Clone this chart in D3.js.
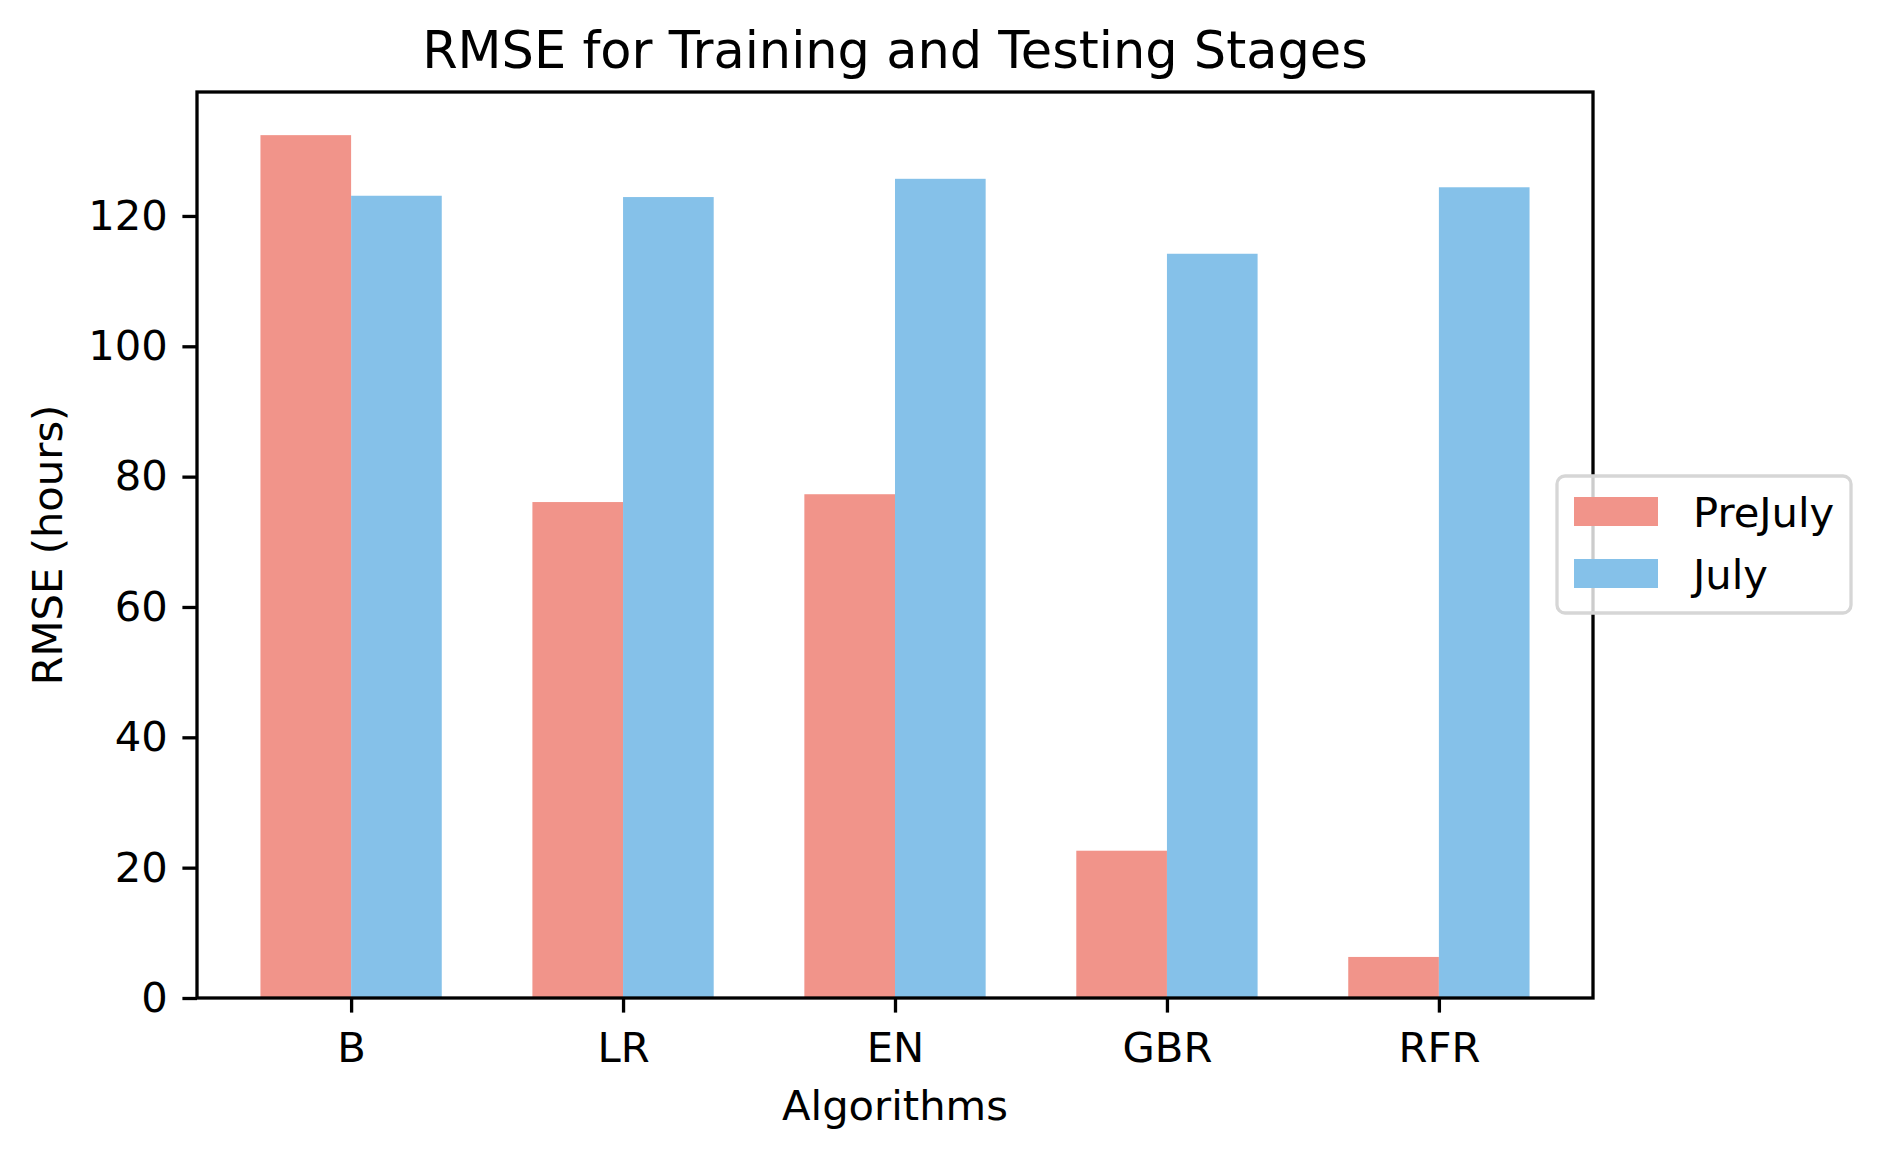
<!DOCTYPE html>
<html>
<head>
<meta charset="utf-8">
<script src="https://cdn.jsdelivr.net/npm/d3@7"></script>
<style>
  body { margin: 0; background: #fff; }
  svg { display: block; font-family: "DejaVu Sans", sans-serif; }
</style>
</head>
<body>
<svg id="chart" width="1880" height="1158"></svg>
<script>
// data
const algorithms = ["B", "LR", "EN", "GBR", "RFR"];
const preJuly = [132.4, 76.1, 77.3, 22.6, 6.3];
const july = [123.1, 122.9, 125.7, 114.2, 124.4];
const seriesNames = ["PreJuly", "July"];
const seriesColors = ["#f1948a", "#85c1e9"];
const yTicks = [0, 20, 40, 60, 80, 100, 120];

const W = 1880, H = 1158;
const margin = { top: 92, right: 287, bottom: 160, left: 197 };
const plotW = W - margin.left - margin.right;
const plotH = H - margin.top - margin.bottom;
const barW = 1 / 3;
const fs = 41.7;

const svg = d3.select("#chart");

// matplotlib style 5% margins on x
const lo = -barW, hi = algorithms.length - 1 + barW;
const pad = (hi - lo) * 0.05;
const x = d3.scaleLinear()
    .domain([lo - pad, hi + pad])
    .range([margin.left, margin.left + plotW]);

const yMax = d3.max(preJuly.concat(july)) * 1.05;
const y = d3.scaleLinear()
    .domain([0, yMax])
    .range([margin.top + plotH, margin.top]);

// bars
const plot = svg.append("g").attr("class", "plot-area");
[preJuly, july].forEach((vals, s) => {
    plot.selectAll(".bar-" + s)
        .data(vals)
        .join("rect")
        .attr("class", "bar-" + s)
        .attr("fill", seriesColors[s])
        .attr("x", (d, i) => x(i - barW + s * barW))
        .attr("width", x(barW) - x(0))
        .attr("y", d => y(d))
        .attr("height", d => y(0) - y(d));
});

// axes
const xAxis = svg.append("g")
    .attr("transform", `translate(0,${margin.top + plotH})`)
    .call(d3.axisBottom(x)
        .tickValues(d3.range(algorithms.length))
        .tickFormat(i => algorithms[i])
        .tickSize(14.6)
        .tickPadding(19.5)
        .tickSizeOuter(0));

const yAxis = svg.append("g")
    .attr("transform", `translate(${margin.left},0)`)
    .call(d3.axisLeft(y)
        .tickValues(yTicks)
        .tickSize(14.6)
        .tickPadding(14.6)
        .tickSizeOuter(0));

[xAxis, yAxis].forEach(g => {
    g.select(".domain").remove();
    g.selectAll(".tick line").attr("stroke", "#000").attr("stroke-width", 3.3);
    g.selectAll(".tick text")
        .attr("fill", "#000")
        .style("font-size", fs + "px")
        .style("font-family", "DejaVu Sans");
});

// frame
svg.append("rect")
    .attr("x", margin.left)
    .attr("y", margin.top)
    .attr("width", plotW)
    .attr("height", plotH)
    .attr("fill", "none")
    .attr("stroke", "#000")
    .attr("stroke-width", 3.3);

// title and labels
svg.append("text")
    .attr("x", margin.left + plotW / 2)
    .attr("y", 68)
    .attr("text-anchor", "middle")
    .style("font-size", "51px")
    .text("RMSE for Training and Testing Stages");

svg.append("text")
    .attr("x", margin.left + plotW / 2)
    .attr("y", 1120)
    .attr("text-anchor", "middle")
    .style("font-size", fs + "px")
    .text("Algorithms");

svg.append("text")
    .attr("transform", `translate(62,${margin.top + plotH / 2}) rotate(-90)`)
    .attr("text-anchor", "middle")
    .style("font-size", fs + "px")
    .text("RMSE (hours)");

// legend
const legend = svg.append("g").attr("transform", "translate(1557,476)");
legend.append("rect")
    .attr("width", 294)
    .attr("height", 137)
    .attr("rx", 8)
    .attr("fill", "#fff")
    .attr("fill-opacity", 0.8)
    .attr("stroke", "#d6d6d6")
    .attr("stroke-width", 3.3);

seriesNames.forEach((name, s) => {
    const row = legend.append("g").attr("transform", `translate(17,${21 + s * 62})`);
    row.append("rect")
        .attr("width", 84)
        .attr("height", 29)
        .attr("fill", seriesColors[s]);
    row.append("text")
        .attr("x", 119)
        .attr("y", 30)
        .style("font-size", fs + "px")
        .text(name);
});
</script>
</body>
</html>
